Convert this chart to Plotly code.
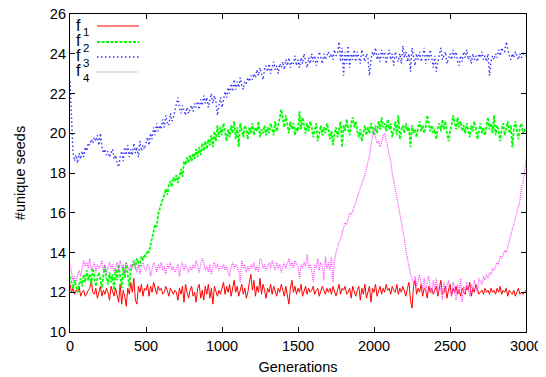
import plotly.graph_objects as go

generations = list(range(0, 3001, 10))

f1 = [
    12.4, 12.0, 12.2, 11.9, 12.1, 12.0, 12.3, 11.8, 12.0, 12.1,
    11.8, 11.9, 12.1, 12.2, 12.6, 12.0, 11.9, 12.2, 11.7, 12.0,
    12.3, 11.8, 12.1, 11.9, 12.2, 12.0, 11.6, 12.3, 12.1, 11.8,
    12.2, 11.9, 11.5, 12.4, 11.4, 12.1, 11.8, 11.3, 12.2, 11.9,
    12.5, 12.0, 12.7, 11.6, 11.4, 12.3, 12.0, 12.4, 11.8, 12.2,
    12.1, 12.4, 11.8, 12.3, 12.0, 12.5, 12.1, 11.9, 12.3, 12.1,
    12.2, 11.9, 12.0, 12.3, 12.1, 11.8, 12.2, 12.0, 11.9, 12.1,
    12.0, 11.6, 12.2, 11.9, 12.3, 11.5, 12.4, 12.0, 11.7, 12.1,
    12.3, 11.8, 12.0, 11.5, 12.2, 12.4, 11.7, 12.1, 11.6, 12.3,
    11.9, 12.4, 11.7, 12.2, 11.4, 12.3, 12.0, 11.8, 12.1, 11.9,
    12.2, 12.5, 11.9, 12.3, 12.0, 12.4, 11.8, 12.2, 12.6, 12.0,
    12.3, 11.8, 12.1, 12.4, 11.9, 12.2, 11.7, 12.0, 12.5, 12.9,
    12.1, 12.6, 11.8, 12.3, 12.0, 12.7, 11.9, 12.4, 12.1, 11.7,
    12.2, 12.0, 12.4, 11.9, 12.3, 12.1, 11.8, 12.2, 12.0, 12.4,
    12.1, 11.8, 12.3, 11.9, 11.4, 12.2, 12.6, 12.0, 12.3, 11.9,
    12.2, 12.0, 12.4, 11.8, 12.1, 12.3, 11.9, 12.2, 12.0, 12.1,
    12.3, 11.9, 12.1, 12.2, 11.8, 12.0, 12.3, 12.1, 11.9, 12.2,
    12.0, 12.2, 11.9, 12.3, 12.0, 11.8, 12.1, 12.4, 11.9, 12.2,
    12.1, 12.3, 11.9, 12.0, 12.2, 11.7, 12.3, 12.0, 11.8, 12.1,
    12.3, 11.6, 12.2, 11.9, 12.4, 11.7, 12.0, 12.3, 11.5, 12.2,
    12.0, 12.4, 11.8, 12.1, 12.3, 11.9, 12.2, 12.0, 12.4, 12.1,
    12.2, 11.9, 12.3, 12.1, 12.0, 12.4, 11.9, 12.2, 12.0, 12.3,
    12.1, 11.8, 12.2, 12.5, 11.6, 11.2, 12.3, 12.6, 11.9, 12.2,
    12.0, 12.4, 11.8, 12.2, 12.1, 11.7, 12.3, 12.0, 12.2, 11.9,
    12.1, 12.3, 11.8, 12.2, 12.6, 11.9, 12.0, 12.3, 11.7, 12.1,
    12.4, 11.8, 12.2, 12.0, 12.3, 11.9, 12.1, 11.8, 12.2, 12.0,
    11.9, 12.3, 12.1, 12.5, 11.8, 12.2, 12.0, 12.4, 12.1, 11.9,
    12.0, 12.1, 11.9, 12.2, 12.0, 12.1, 11.9, 12.2, 12.0, 12.1,
    11.9, 12.2, 12.0, 12.3, 11.9, 12.1, 12.0, 12.2, 11.8, 12.1,
    12.0, 11.9, 12.1, 11.8, 12.0, 12.2, 11.9, 12.0, 11.9, 12.0,
    12.1,
]

f2 = [
    12.8, 12.5, 12.2, 12.6, 12.3, 12.0, 12.4, 12.7, 12.3, 12.9,
    12.5, 13.1, 12.6, 12.9, 12.4, 13.2, 12.8, 12.3, 12.7, 13.0,
    12.6, 12.2, 12.9, 13.3, 12.7, 12.4, 13.0, 12.5, 12.9, 12.1,
    13.2, 12.6, 13.4, 12.8, 12.2, 13.3, 12.7, 13.5, 12.9, 12.3,
    13.1, 13.4, 13.6, 13.2, 13.7, 13.5, 13.3, 13.8, 13.6, 13.9,
    13.8, 14.1, 14.0, 14.4, 14.7, 15.0, 15.4, 15.3, 15.9, 16.2,
    16.4, 16.6, 16.9, 17.2, 16.9, 17.4, 17.6, 17.3, 17.8, 17.6,
    17.9, 17.5, 17.9, 18.2, 17.8, 18.6, 18.4, 18.8, 18.5, 18.9,
    18.6, 19.0, 18.7, 19.2, 18.8, 19.3, 18.9, 19.5, 19.1, 19.6,
    19.2, 19.7, 19.4, 19.9, 19.3, 20.1, 19.6, 20.4, 19.8, 20.3,
    19.9, 20.5, 20.1, 19.6, 20.2, 19.8, 20.4, 20.0, 20.6, 19.7,
    20.3, 19.3, 20.5, 20.1, 19.8, 20.4, 20.2, 19.7, 20.3, 20.0,
    20.5, 19.9, 20.3, 20.1, 20.6, 19.8, 20.2, 20.0, 20.4, 19.9,
    20.3, 20.0, 20.5, 20.2, 19.9, 20.6, 20.1, 20.4, 20.8, 21.2,
    20.7, 20.3, 20.9, 20.4, 20.0, 20.6, 20.2, 20.5, 19.9, 20.3,
    20.1, 21.1, 20.2, 20.8, 20.4, 20.0, 20.5, 20.1, 20.6, 20.3,
    19.8, 20.2, 20.5, 19.6, 20.1, 20.4, 19.9, 20.3, 20.0, 20.5,
    20.2, 19.7, 20.1, 19.4, 20.0, 20.3, 19.8, 20.2, 20.6, 19.3,
    20.4, 20.1, 20.7, 20.2, 19.9, 20.5, 20.8, 20.3, 20.6, 20.1,
    19.8, 20.2, 19.6, 20.0, 20.4, 19.9, 20.3, 20.0, 20.5, 20.2,
    19.9, 20.4, 20.0, 20.6, 20.2, 20.8, 20.3, 20.5, 20.1, 20.7,
    20.2, 20.5, 19.8, 20.1, 20.6, 19.9, 20.9, 19.7, 20.2, 20.4,
    20.0, 20.5, 20.1, 20.3, 19.3, 20.4, 20.0, 20.2, 19.8, 20.3,
    20.6, 20.1, 20.4, 20.0, 20.3, 20.9, 20.5, 20.1, 20.4, 20.0,
    20.2, 19.7, 20.3, 20.5, 20.1, 20.7, 20.2, 20.6, 20.0, 19.6,
    20.1, 20.4, 20.9, 20.5, 20.2, 20.8, 20.3, 20.6, 20.1, 20.4,
    20.0, 20.5, 20.2, 19.8, 20.4, 20.1, 20.6, 20.3, 19.7, 20.2,
    20.5, 20.0, 20.3, 19.9, 20.4, 20.8, 20.2, 20.5, 20.0, 20.9,
    19.9, 20.4, 20.1, 19.6, 20.2, 20.5, 19.9, 20.3, 20.6, 20.0,
    20.4, 19.3, 20.2, 20.6, 20.1, 19.7, 20.3, 20.5, 20.0, 20.2,
    20.0,
]

f3 = [
    22.6, 20.5, 19.0, 18.6, 18.9, 18.5, 19.0, 18.7, 19.1, 18.8,
    19.3, 19.1, 19.5, 19.4, 19.7, 19.5, 19.8, 19.6, 19.9, 19.4,
    20.0, 19.3, 19.0, 19.2, 18.9, 19.1, 18.8, 19.0, 19.2, 18.7,
    18.9, 18.5, 18.3, 18.8, 19.1, 18.6, 19.3, 18.9, 19.4, 18.8,
    19.2, 18.9, 19.5, 19.0, 19.3, 18.8, 19.6, 19.1, 19.4, 19.2,
    19.5, 19.8, 19.4, 20.0, 19.7, 20.3, 19.9, 20.5, 20.1, 20.4,
    20.2, 20.7, 20.3, 20.9, 20.5, 20.4, 21.0, 20.6, 20.8, 21.2,
    21.5, 21.8, 21.3, 21.0, 21.4, 21.1, 20.9, 21.3, 21.0, 21.2,
    21.4, 21.1, 21.5, 21.3, 21.6, 21.2, 21.7, 21.4, 21.9, 21.5,
    21.8, 21.3, 21.6, 22.0, 21.5, 21.9, 21.6, 20.9, 21.4, 21.8,
    21.3, 21.7, 22.1, 21.8, 22.3, 22.0, 22.5, 22.1, 22.7, 22.2,
    22.6, 22.3, 22.8, 22.4, 22.2, 22.6, 22.5, 22.8, 22.6, 22.9,
    22.7, 23.0, 22.8, 23.2, 22.9, 23.3, 23.0, 22.7, 23.2, 23.4,
    23.1, 23.5, 23.0, 23.3, 23.6, 23.2, 23.4, 23.0, 23.5, 23.3,
    23.6, 23.2, 23.7, 23.4, 23.8, 23.3, 23.6, 23.5, 23.9, 23.4,
    23.7, 23.3, 23.8, 23.5, 24.0, 23.6, 23.3, 23.8, 23.5, 24.0,
    23.6, 23.9, 23.4, 23.7, 24.1, 23.8, 23.5, 24.0, 23.7, 23.9,
    24.1, 23.8, 24.0, 23.7, 24.2, 23.9, 24.0, 24.6, 23.6, 24.3,
    22.9, 24.1, 23.5, 24.4, 23.3, 24.0, 23.7, 24.2, 23.6, 24.1,
    23.8, 23.5, 24.2, 23.9, 23.6, 24.0, 23.8, 22.9, 23.7, 24.1,
    23.9, 24.3, 23.7, 24.0, 23.6, 24.2, 23.8, 24.1, 23.5, 23.9,
    24.2, 23.7, 24.0, 23.4, 24.1, 23.8, 23.6, 24.0, 23.5, 24.4,
    23.8, 24.1, 23.6, 24.0, 23.1, 24.3, 23.9, 23.4, 24.0, 23.7,
    24.1, 23.6, 23.9, 24.3, 23.5, 24.0, 23.7, 24.2, 23.8, 23.3,
    23.9, 23.1, 23.6, 24.0, 24.3, 23.7, 23.9, 24.1, 23.5, 23.8,
    24.0, 23.7, 24.2, 23.8, 24.1, 23.6, 23.4, 23.9, 23.6, 24.1,
    23.8, 24.2, 23.7, 23.9, 23.5, 24.0, 23.7, 23.9, 23.6, 24.0,
    23.8, 24.1, 23.7, 23.9, 23.6, 24.0, 22.9, 23.6, 23.9, 23.7,
    24.0, 23.8, 24.2, 23.9, 24.3, 24.1, 24.1, 24.6, 24.2, 23.9,
    23.7, 24.0, 23.8, 24.1, 23.9, 23.7, 24.0, 23.8, 24.1, 23.9,
    23.9,
]

f4 = [
    13.4, 12.9, 12.6, 12.8, 12.5, 12.9, 13.1, 12.8, 13.2, 13.6,
    13.3, 13.5, 13.2, 13.7, 13.1, 13.3, 13.5, 13.0, 13.4, 13.2,
    13.3, 13.6, 13.1, 13.4, 12.9, 13.3, 13.5, 13.2, 13.4, 13.0,
    13.3, 13.5, 13.1, 13.6, 13.2, 13.4, 12.9, 13.5, 13.3, 13.1,
    13.4, 13.2, 13.5, 13.3, 13.0, 13.4, 12.9, 13.3, 13.5, 13.2,
    13.1, 13.4, 13.3, 12.8, 13.2, 13.5, 13.3, 13.0, 13.4, 13.2,
    13.5, 13.1, 13.3, 12.9, 13.4, 13.2, 13.5, 13.1, 13.3, 13.0,
    13.2, 13.4, 12.8, 13.3, 13.5, 13.1, 13.4, 13.2, 13.0, 13.3,
    13.1, 13.4, 13.2, 13.6, 13.3, 13.0, 13.4, 13.7, 13.5, 13.1,
    13.3, 13.0, 13.4, 12.9, 13.3, 13.5, 13.2, 13.4, 13.1, 13.3,
    13.2, 13.4, 13.1, 13.3, 13.0, 12.8, 13.3, 13.5, 13.2, 13.4,
    13.3, 13.1, 12.5, 13.6, 13.2, 13.4, 13.0, 13.3, 13.1, 13.4,
    13.2, 13.5, 13.1, 13.3, 13.0, 13.7, 13.6, 13.2, 13.4, 13.1,
    13.3, 13.5, 13.2, 13.6, 13.3, 13.1, 13.5, 13.2, 13.4, 13.0,
    13.3, 13.5, 13.2, 13.4, 13.7, 13.3, 13.5, 13.2, 13.6, 13.4,
    13.3, 12.7, 13.4, 13.2, 13.5, 13.3, 13.9, 13.2, 13.4, 13.1,
    12.5, 13.4, 13.2, 13.7, 13.1, 13.5, 13.3, 12.6, 13.8, 13.2,
    13.5, 13.1, 13.8, 12.5, 13.6, 14.0, 14.3, 14.5, 14.7, 15.0,
    15.2, 15.5, 15.4, 15.8, 16.0, 15.9, 16.1, 16.2, 16.5, 16.8,
    17.0, 17.3, 17.5, 17.7, 17.9, 18.2, 18.5, 18.9, 19.4, 19.8,
    20.3, 19.8, 19.5, 19.6, 19.3, 19.5, 19.9, 20.0, 19.7, 19.3,
    18.9, 18.6, 18.0, 17.6, 17.2, 16.8, 16.3, 16.0, 15.6, 15.2,
    14.7, 14.1, 13.7, 13.2, 12.9, 12.7, 12.4, 12.8, 12.3, 12.6,
    12.9, 12.4, 12.2, 12.7, 12.0, 12.5, 12.8, 12.3, 11.9, 12.6,
    12.2, 12.7, 11.9, 12.4, 12.1, 11.6, 12.5, 12.0, 12.3, 12.6,
    12.1, 11.8, 12.5, 12.2, 11.6, 12.4, 12.0, 12.7, 11.5, 12.3,
    12.0, 12.5, 12.2, 11.8, 12.4, 12.1, 12.6, 12.3, 12.0, 12.7,
    12.5, 12.4, 12.8, 12.6, 12.9, 12.7, 13.0, 12.9, 13.2, 13.1,
    13.3, 13.5, 13.4, 13.8, 13.7, 13.9, 14.1, 14.0, 14.3, 14.6,
    14.9, 15.1, 15.4, 15.7, 16.0, 16.3, 16.6, 17.2, 17.5, 18.0,
    18.7,
]

series_labels = ["1", "2", "3", "4"]
series_values = [f1, f2, f3, f4]
colors = ["#ff0000", "#00ff00", "#3030ff", "#ff44ff"]
dashes = ["solid", "3px,1.5px", "1.5px,2.5px", "1px,1px"]
widths = [1.0, 1.8, 1.4, 1.2]

x_ticks = [0, 500, 1000, 1500, 2000, 2500, 3000]
y_ticks = [10, 12, 14, 16, 18, 20, 22, 24, 26]

FONT = "Liberation Sans"

# The page body adds an 8px offset; the figure is sized to fill the rest.
OFF = 8
W, H = 546 - OFF, 377 - OFF

fig = go.Figure()
for vals, c, d, w in zip(series_values, colors, dashes, widths):
    fig.add_trace(go.Scatter(x=generations, y=vals, mode="lines",
                             line=dict(color=c, dash=d, width=w),
                             showlegend=False, hoverinfo="skip"))

# legend drawn manually: text on left, line sample on right (page pixels)
L, R, T, B = 70, 526, 14, 332
def px(xp):
    return (xp - L) / (R - L)
def py(yp):
    return (B - yp) / (B - T)

legend_y = [26, 42, 57, 72]
for lab, c, d, w, yy in zip(series_labels, colors, dashes, widths, legend_y):
    fig.add_shape(type="line", xref="paper", yref="paper",
                  x0=px(97), x1=px(139), y0=py(yy), y1=py(yy),
                  line=dict(color=c, dash=d, width=w))
    fig.add_annotation(xref="paper", yref="paper", x=px(75), y=py(yy - 1),
                       text="f", showarrow=False, xanchor="left", yanchor="middle",
                       borderpad=0, font=dict(family=FONT, size=16, color="black"))
    fig.add_annotation(xref="paper", yref="paper", x=px(82), y=py(yy + 5.5),
                       text=lab, showarrow=False, xanchor="left", yanchor="middle",
                       borderpad=0, font=dict(family=FONT, size=11.5, color="black"))

axis_common = dict(showline=True, linecolor="black", linewidth=1.2, mirror="ticks",
                   ticks="inside", ticklen=5, tickwidth=1, tickcolor="black",
                   showgrid=False, zeroline=False, automargin=False,
                   ticklabeloverflow="allow",
                   tickfont=dict(family=FONT, size=14.5, color="black"))

fig.update_layout(
    width=W, height=H,
    margin=dict(l=L - OFF, r=546 - R, t=T - OFF, b=377 - B),
    paper_bgcolor="white", plot_bgcolor="white",
    font=dict(family=FONT, size=14.5, color="black"),
    xaxis=dict(range=[0, 3000], tickvals=x_ticks,
               title=dict(text="Generations", font=dict(family=FONT, size=14.5), standoff=9),
               **axis_common),
    yaxis=dict(range=[10, 26], tickvals=y_ticks,
               title=dict(text="#unique seeds", font=dict(family=FONT, size=14.5), standoff=20),
               **axis_common),
)

fig.write_html("out.html")
